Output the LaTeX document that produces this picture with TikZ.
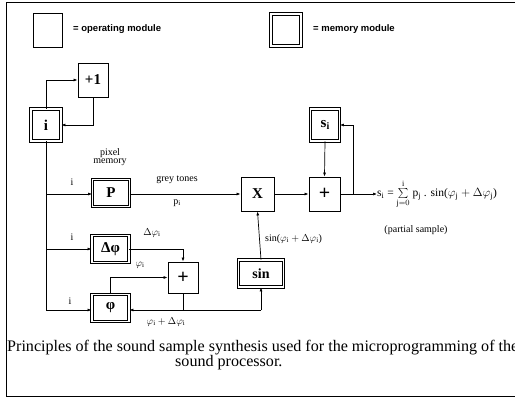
\documentclass[tikz,border=0pt]{standalone}
\usepackage{fontspec}
\setmainfont{Liberation Serif}
\newfontfamily\legendfont{Liberation Sans}
\usetikzlibrary{arrows.meta}
\begin{document}
\begin{tikzpicture}[x=1pt,y=-1pt,
  conn/.style={line width=0.7pt},
  arr/.style={conn,-{Latex[length=4pt,width=3pt]}},
  opbox/.style={draw,line width=0.8pt,inner sep=0pt,font=\bfseries\fontsize{15}{15}\selectfont},
  membox/.style={draw,line width=0.8pt,double=white,double distance=1.6pt,inner sep=0pt,font=\bfseries\fontsize{15}{15}\selectfont},
  lbl/.style={inner sep=0pt,font=\fontsize{10}{10}\selectfont},
  legend/.style={inner sep=0pt,anchor=west,font=\legendfont\bfseries\fontsize{9.5}{9.5}\selectfont},
  caption/.style={inner sep=0pt,font=\fontsize{16.1}{16.1}\selectfont}]
\useasboundingbox (0,0) rectangle (515,401);
% frame
\draw[line width=1pt] (515,3) -- (6,3) -- (6,397) -- (515,397);
% legend
\node[opbox,minimum width=29pt,minimum height=34pt] (lop) at (47.5,30) {};
\node[legend] (lopt) at (73,29) {= operating module};
\node[membox,minimum width=30pt,minimum height=32pt] (lmem) at (286,30) {};
\node[legend] (lmemt) at (313,29) {= memory module};
% modules
\node[opbox,minimum width=30pt,minimum height=34pt] (plusone) at (93,80) {+1};
\node[membox,minimum width=30pt,minimum height=32pt] (ibox) at (46,125) {i};
\node[membox,minimum width=37pt,minimum height=27pt] (pbox) at (111,193) {P};
\node[opbox,minimum width=33pt,minimum height=34pt] (xbox) at (257.5,194) {X};
\node[opbox,minimum width=31pt,minimum height=34pt,font=\bfseries\fontsize{20}{20}\selectfont] (plusu) at (324.5,194) {+};
\node[membox,minimum width=29pt,minimum height=32pt] (sbox) at (325,125) {s\raisebox{-2pt}{\fontsize{10}{10}\selectfont i}};
\node[membox,minimum width=37pt,minimum height=27pt] (dphi) at (110.5,249) {Δφ};
\node[opbox,minimum width=30pt,minimum height=31pt,font=\bfseries\fontsize{20}{20}\selectfont] (plusl) at (183,277.5) {+};
\node[membox,minimum width=37pt,minimum height=27pt] (phibox) at (110.5,308) {φ};
\node[membox,minimum width=45pt,minimum height=27pt,font=\bfseries\fontsize{14}{14}\selectfont] (sinbox) at (261,273.5) {sin};
% coordinates
\coordinate (trunkend) at (46,310);
\coordinate (tap) at (353,194);
\coordinate (outend) at (377,194);
\coordinate (jr) at (261,310);
% connectors
\draw[arr] (ibox.north) |- (plusone.west);
\draw[arr] (plusone.south) |- (ibox.east);
\draw[conn] (ibox.south) -- (trunkend);
\draw[arr] (46,194) -- (pbox.west |- 46,194);
\draw[arr] (46,249) -- (dphi.west);
\draw[arr] (trunkend) -- (phibox.west |- trunkend);
\draw[arr] (pbox.east |- 0,194) -- (xbox.west);
\draw[arr] (xbox.east) -- (plusu.west);
\draw[arr] (sbox.south) -- (plusu.north);
\draw[arr] (plusu.east) -- (outend);
\draw[arr] (tap) |- (sbox.east);
\draw[arr] (sinbox.north) -- (xbox.south);
\draw[arr] (dphi.east) -| (plusl.north);
\draw[arr] (phibox.north) |- (plusl.west);
\draw[conn] (plusl.south) -- (plusl.south |- jr);
\draw[arr] (jr) -- (phibox.east |- jr);
\draw[arr] (jr) -- (sinbox.south);
% labels
\node[lbl,align=center,font=\fontsize{10}{8}\selectfont] (pm) at (110,157) {pixel\\memory};
\node[lbl] (i1) at (72,182) {i};
\node[lbl] (i2) at (72,237) {i};
\node[lbl] (i3) at (70,301) {i};
\node[lbl] (grey) at (177,180) {grey tones};
\node[lbl] (pi) at (177,203) {p$_\mathrm{i}$};
\node[lbl] (dphil) at (152,233) {$\Delta\varphi_\mathrm{i}$};
\node[lbl] (phil) at (140,265) {$\varphi_\mathrm{i}$};
\node[lbl] (sum) at (166,322) {$\varphi_\mathrm{i}+\Delta\varphi_\mathrm{i}$};
\node[lbl,anchor=west] (sinl) at (265,239) {sin($\varphi_\mathrm{i}+\Delta\varphi_\mathrm{i}$)};
\node[lbl,anchor=west,font=\fontsize{11.5}{11.5}\selectfont] (formula) at (outend) {s$_\mathrm{i}$ = $\sum\limits_{\mathrm{j}=0}^{\mathrm{i}}$ p$_\mathrm{j}$ . sin($\varphi_\mathrm{j}+\Delta\varphi_\mathrm{j}$)};
\node[lbl] (partial) at (416,230) {(partial sample)};
% caption
\node[caption,anchor=west] (cap1) at (7,348) {Principles of the sound sample synthesis used for the microprogramming of the};
\node[caption,anchor=west] (cap2) at (175,363) {sound processor.};
\end{tikzpicture}
\end{document}
